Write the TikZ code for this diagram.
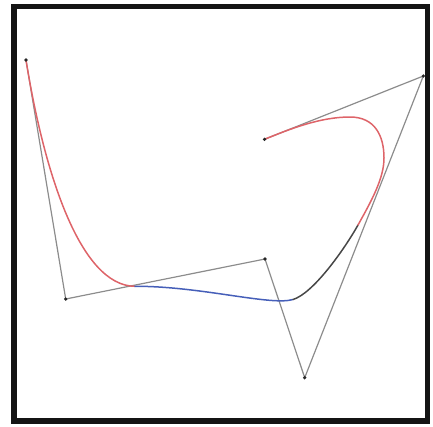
\documentclass[tikz,border=0pt]{standalone}
\begin{document}
\begin{tikzpicture}[x=1pt,y=-1pt,
  leg/.style={draw=black!45, line width=1.2pt},
  ctrl/.style={circle, fill=black!85, inner sep=0pt, minimum size=3.6pt},
  crv/.style={line width=1.5pt, line cap=round},
  redc/.style={crv, draw={rgb,255:red,222;green,100;blue,105}},
  bluec/.style={crv, draw={rgb,255:red,70;green,95;blue,185}},
  darkc/.style={crv, draw=black!72},
  frame/.style={draw=black!92, line width=5.5pt}]
\useasboundingbox (0,0) rectangle (433,426);
\draw[frame] (14,6.5) rectangle (427.5,421);
% control points
\coordinate (p0) at (26,60);
\coordinate (p1) at (65.7,299);
\coordinate (p2) at (265,259);
\coordinate (p3) at (304.7,377.7);
\coordinate (p4) at (423.3,76);
\coordinate (p5) at (264.5,139.3);
% curve junctions
\coordinate (ja) at (135,286.3);
\coordinate (jb) at (293,299.5);
\coordinate (jc) at (358,225);
\coordinate (jd) at (384,158);
\coordinate (je) at (350,117);
% control polygon
\draw[leg] (p0) -- (p1) -- (p2) -- (p3) -- (p4) -- (p5);
% curve
\draw[redc] (p0) .. controls (44,172) and (80,286) .. (ja);
\draw[bluec] (ja) .. controls (200,286) and (271,306.1) .. (jb);
\draw[darkc] (jb) .. controls (313,293.5) and (344,250) .. (jc);
\draw[redc] (jc) .. controls (372,200) and (384,178) .. (jd)
  .. controls (384,136) and (375,117) .. (je)
  .. controls (320,117) and (290,129) .. (p5);
% points
\foreach \p in {p0,p1,p2,p3,p4,p5} \node[ctrl] (d\p) at (\p) {};
\end{tikzpicture}
\end{document}
